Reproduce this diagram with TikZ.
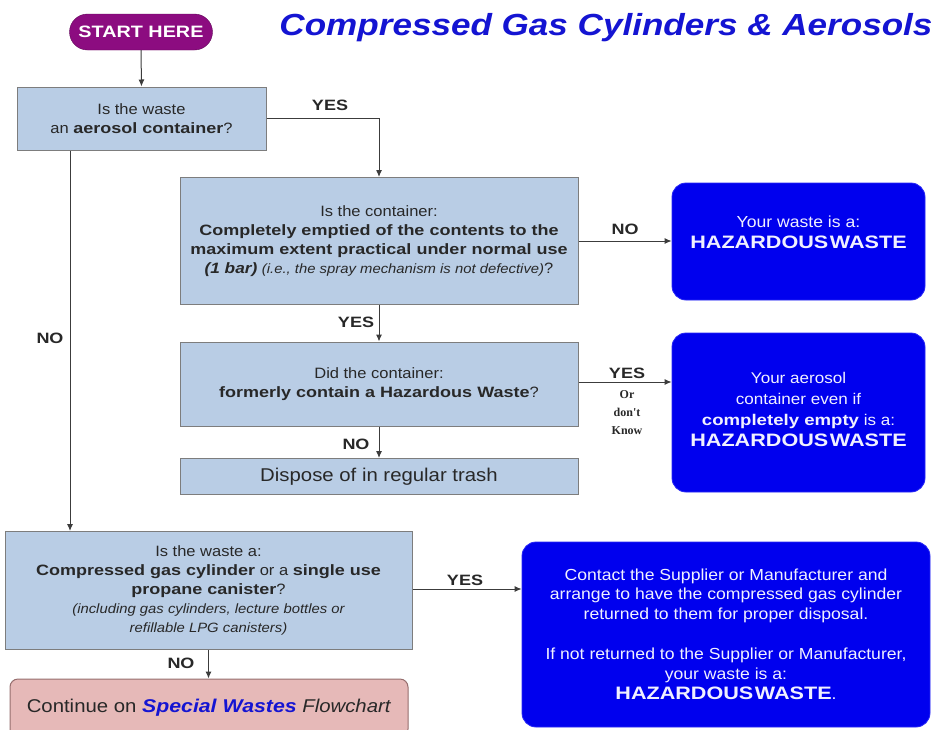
\documentclass[tikz,border=0pt]{standalone}
\usepackage{fontspec}
\setmainfont{Liberation Sans}[
  UprightFeatures={FakeStretch=1.1},
  ItalicFeatures={FakeStretch=1.1},
  BoldFeatures={FakeStretch=1.2},
  BoldItalicFeatures={FakeStretch=1.15}]
\newfontfamily\serifbold{Liberation Serif}
\usetikzlibrary{arrows.meta}
\definecolor{qfill}{RGB}{185,205,229}
\definecolor{qedge}{RGB}{125,125,125}
\definecolor{hzfill}{RGB}{0,0,238}
\definecolor{hzedge}{RGB}{40,40,245}
\definecolor{startfill}{RGB}{140,12,128}
\definecolor{pinkfill}{RGB}{230,185,184}
\definecolor{pinkedge}{RGB}{150,110,110}
\definecolor{titleblue}{RGB}{20,20,210}
\definecolor{ink}{RGB}{40,40,40}
\definecolor{wire}{RGB}{60,60,60}
\definecolor{hztext}{RGB}{240,240,255}
\newcommand\hazword{{\bfseries\fontsize{18}{23}\selectfont HAZARDOUS\hspace{1.5pt}WASTE}}
\begin{document}
\begin{tikzpicture}[x=1pt,y=-1pt,
  question/.style={draw=qedge,fill=qfill,line width=1pt,inner sep=0pt,
    align=center,text=ink,font=\fontsize{15}{19}\selectfont},
  hazard/.style={draw=hzedge,fill=hzfill,line width=0.8pt,rounded corners=14pt,
    inner sep=0pt,align=center,text=hztext,font=\fontsize{16}{21}\selectfont},
  arr/.style={draw=wire,line width=1pt,-{Latex[length=7pt,width=6pt]}},
  answer/.style={font=\bfseries\fontsize{15}{17}\selectfont,text=ink,inner sep=0pt}]
\useasboundingbox (0,0) rectangle (938,729);

% title and entry point
\node (title) at (606,28) {\fontsize{30.5}{34}\selectfont\bfseries\itshape\color{titleblue}Compressed Gas Cylinders \& Aerosols};
\node[fill=startfill,draw=startfill!70!black,rounded corners=18pt,minimum width=143pt,
  minimum height=36pt,inner sep=0pt,text=white,font=\bfseries\fontsize{16.5}{18}\selectfont]
  (start) at (141,32) {START HERE};

% question boxes
\node[question,minimum width=249pt,minimum height=63pt] (q1) at (141.5,118.5)
  {Is the waste\\an \textbf{aerosol container}?};
\node[question,minimum width=398pt,minimum height=127pt] (q2) at (379,241)
  {Is the container:\\
   \textbf{Completely emptied of the contents to the}\\
   \textbf{maximum extent practical under normal use}\\
   \textbf{\itshape (1 bar)} {\itshape\fontsize{13.5}{19}\selectfont (i.e., the spray mechanism is not defective)}?};
\node[question,minimum width=398pt,minimum height=84pt] (q3) at (379,384)
  {Did the container:\\\textbf{formerly contain a Hazardous Waste}?};
\node[question,minimum width=398pt,minimum height=36pt,font=\fontsize{18.5}{20}\selectfont] (trash) at (379,476.5)
  {Dispose of in regular trash};
\node[question,minimum width=407pt,minimum height=118pt] (q5) at (208.5,590.5)
  {Is the waste a:\\
   \textbf{Compressed gas cylinder} or a \textbf{single use}\\
   \textbf{propane canister}?\\
   {\itshape\fontsize{13.5}{19}\selectfont (including gas cylinders, lecture bottles or}\\
   {\itshape\fontsize{13.5}{19}\selectfont refillable LPG canisters)}};
\node[draw=pinkedge,fill=pinkfill,line width=1pt,rounded corners=8pt,inner sep=0pt,
  minimum width=398pt,minimum height=58pt,text=ink,font=\fontsize{18.5}{20}\selectfont]
  (special) at (209,708)
  {Continue on \textcolor{titleblue}{\bfseries\itshape Special Wastes} \textit{Flowchart}};

% outcome boxes
\node[hazard,minimum width=253pt,minimum height=117pt] (hz1) at (798.5,241.5)
  {Your waste is a:\\\hazword\\[-2pt]\mbox{}};
\node[hazard,minimum width=253pt,minimum height=159pt,font=\fontsize{15.5}{21}\selectfont] (hz2) at (798.5,412.5)
  {Your aerosol\\container even if\\\textbf{completely empty} is a:\\\hazword\\[-15pt]\mbox{}};
\node[hazard,minimum width=408pt,minimum height=185pt,font=\fontsize{16}{19.5}\selectfont] (hz3) at (726,634.5)
  {Contact the Supplier or Manufacturer and\\
   arrange to have the compressed gas cylinder\\
   returned to them for proper disposal.\\[21pt]
   If not returned to the Supplier or Manufacturer,\\
   your waste is a:\\[1pt]
   \hazword.};

% connectors
\draw[arr] (start.south) -- (q1.north);
\draw[arr] (q1.east) -| (q2.north);
\draw[arr] (q2.east) -- (q2.east -| hz1.west);
\draw[arr] (q2.south) -- (q3.north);
\draw[arr] ([yshift=2pt]q3.east) -- ([yshift=2pt]q3.east -| hz2.west);
\draw[arr] (q3.south) -- (trash.north);
\draw[arr] (q1.south -| 70,0) -- (q5.north -| 70,0);
\draw[arr] ([yshift=1.5pt]q5.east) -- ([yshift=1.5pt]q5.east -| hz3.west);
\draw[arr] (q5.south) -- (q5.south |- special.north);

% connector labels
\node[answer] (l1) at (330,105) {YES};
\node[answer] (l2) at (625,229) {NO};
\node[answer] (l3) at (356,322) {YES};
\node[answer] (l4) at (627,373) {YES};
\node[text=ink,inner sep=0pt,align=center,font=\serifbold\bfseries\fontsize{12}{18}\selectfont] (l4b) at (627,413) {Or\\don't\\Know};
\node[answer] (l5) at (356,444) {NO};
\node[answer] (l6) at (50,338) {NO};
\node[answer] (l7) at (465,580) {YES};
\node[answer] (l8) at (181,663) {NO};
\end{tikzpicture}
\end{document}
